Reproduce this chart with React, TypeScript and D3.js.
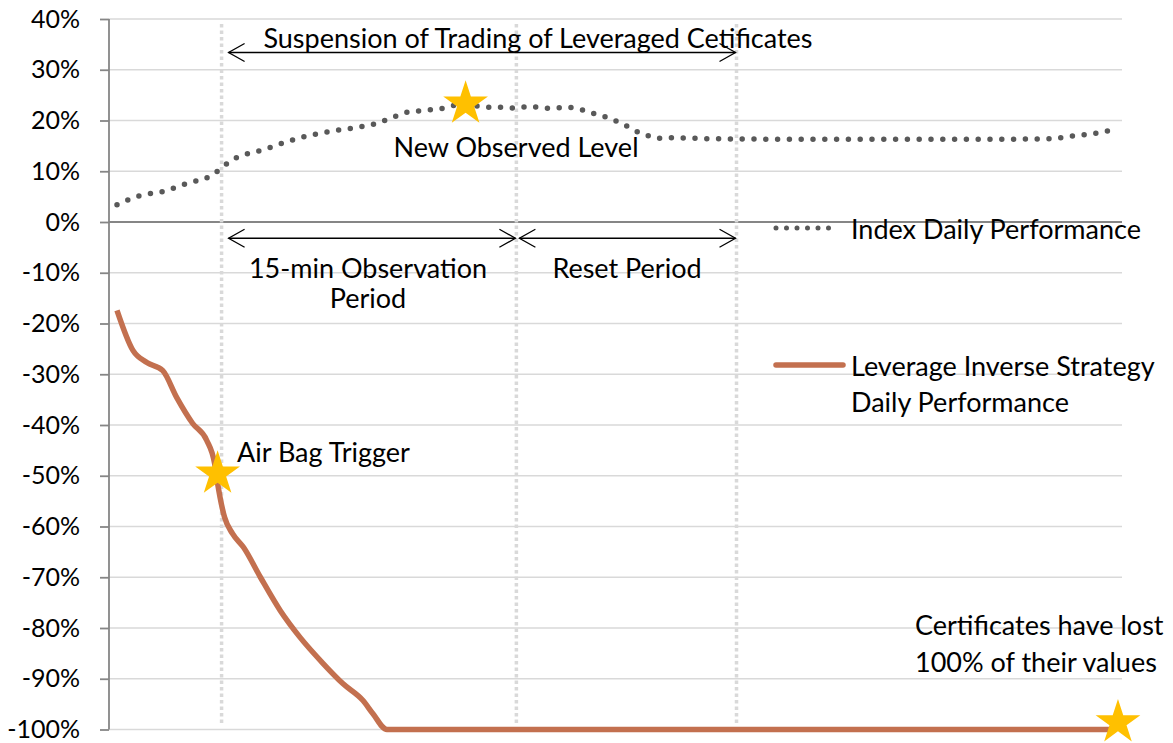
import React, { useRef, useEffect } from "react";
import * as d3 from "d3";

// y axis ticks (percent)
const yTicks = [40, 30, 20, 10, 0, -10, -20, -30, -40, -50, -60, -70, -80, -90, -100];

// Index Daily Performance (time index 0..100, percent)
const indexTimes = [
  0, 2.3, 4.6, 7.0, 9.3, 10.3, 11.3, 14.8, 18.4, 21.9, 24.3, 25.6, 26.7, 27.9, 29.1,
  30.3, 32.7, 34.0, 35.2, 36.4, 37.7, 38.9, 40.1, 41.4, 42.6, 43.8, 45.0, 46.2, 47.4,
  48.6, 49.7, 50.9, 52.0, 53.1, 54.2, 55.4, 60, 70, 80, 88, 93.7, 96.1, 98.6, 100,
];
const indexValues = [
  3.4, 5.2, 6.0, 7.6, 9.0, 10.3, 11.9, 14.3, 16.6, 18.0, 18.7, 19.2, 19.9, 20.8, 21.6,
  21.9, 22.4, 23.0, 23.1, 22.8, 22.6, 22.6, 22.4, 22.8, 22.5, 22.4, 22.6, 22.4, 21.6,
  21.0, 20.2, 19.2, 18.0, 17.2, 16.5, 16.6, 16.4, 16.3, 16.3, 16.3, 16.4, 17.0, 17.6, 18.2,
];

// Leverage Inverse Strategy Daily Performance
const strategyTimes = [
  0, 1.6, 3.0, 4.6, 6.0, 7.6, 9.0, 9.8, 10.1, 10.8, 11.6, 12.7, 14.4, 16.4, 18.4, 20.7,
  22.7, 24.7, 25.7, 27.1, 40, 60, 80, 100,
];
const strategyValues = [
  -17.4, -25.3, -27.7, -29.3, -34.6, -39.7, -43.0, -47.6, -51.5, -58.2, -61.4, -64.1,
  -70.0, -76.6, -81.9, -87.0, -91.0, -94.3, -96.9, -100, -100, -100, -100, -100,
];

// vertical event lines (time index)
const eventTimes = [10.5, 40.1, 62.2];

// star markers [time, value]
const starPoints = [
  [35.0, 23.3],
  [10.1, -49.6],
  [100.5, -98.6],
];

const FONT = "Lato, 'Noto Sans', sans-serif";
const W = 1173;
const H = 743;

const App = () => {
  const svgRef = useRef<SVGSVGElement>(null);

  useEffect(() => {
    const svg = d3.select(svgRef.current);
    svg.selectAll("*").remove();

    const plotLeft = 109;
    const plotRight = 1122;

    const x = d3.scaleLinear().domain([0, 100]).range([117, 1113]);
    const y = d3.scaleLinear().domain([-100, 40]).range([729.5, 19]);

    // gridlines
    svg
      .append("g")
      .selectAll("line")
      .data(yTicks.filter((d) => d !== 0))
      .enter()
      .append("line")
      .attr("x1", plotLeft)
      .attr("x2", plotRight)
      .attr("y1", (d) => y(d))
      .attr("y2", (d) => y(d))
      .attr("stroke", "#d9d9d9")
      .attr("stroke-width", 1.5);

    // zero line
    svg
      .append("line")
      .attr("x1", plotLeft)
      .attr("x2", plotRight)
      .attr("y1", y(0))
      .attr("y2", y(0))
      .attr("stroke", "#868686")
      .attr("stroke-width", 1.8);

    // y axis
    const yAxis = svg
      .append("g")
      .attr("transform", `translate(${plotLeft},0)`)
      .call(
        d3
          .axisLeft(y)
          .tickValues(yTicks)
          .tickSize(9)
          .tickPadding(20)
          .tickFormat((d) => `${d}%`)
      );
    yAxis.select(".domain").attr("stroke", "#868686").attr("stroke-width", 1.8).attr("d", `M0,${y(40)}V${y(-100)}`);
    yAxis.selectAll(".tick line").attr("stroke", "#868686").attr("stroke-width", 1.8);
    yAxis
      .selectAll(".tick text")
      .attr("fill", "#000")
      .style("font-family", FONT)
      .style("font-size", "25px");

    // vertical dotted event lines
    svg
      .append("g")
      .selectAll("line")
      .data(eventTimes)
      .enter()
      .append("line")
      .attr("x1", (d) => x(d))
      .attr("x2", (d) => x(d))
      .attr("y1", 24)
      .attr("y2", 726)
      .attr("stroke", "#d9d9d9")
      .attr("stroke-width", 3.5)
      .attr("stroke-dasharray", "3.5 3");

    // index line (dotted)
    const indexLine = d3
      .line<number>()
      .x((d, i) => x(indexTimes[i]))
      .y((d) => y(d))
      .curve(d3.curveMonotoneX);
    svg
      .append("path")
      .attr("d", indexLine(indexValues))
      .attr("fill", "none")
      .attr("stroke", "#595959")
      .attr("stroke-width", 5.5)
      .attr("stroke-linecap", "round")
      .attr("stroke-dasharray", "0 11.8");

    // strategy line
    const strategyLine = d3
      .line<number>()
      .x((d, i) => x(strategyTimes[i]))
      .y((d) => y(d))
      .curve(d3.curveMonotoneX);
    svg
      .append("path")
      .attr("d", strategyLine(strategyValues))
      .attr("fill", "none")
      .attr("stroke", "#c3704f")
      .attr("stroke-width", 5.5)
      .attr("stroke-linejoin", "round");

    // arrows
    const arrow = (x1, x2, yy) => {
      const g = svg.append("g").attr("stroke", "#000").attr("stroke-width", 1.3).attr("fill", "none");
      g.append("line").attr("x1", x1).attr("x2", x2).attr("y1", yy).attr("y2", yy);
      g.append("path").attr("d", `M${x1 + 16},${yy - 9}L${x1},${yy}L${x1 + 16},${yy + 9}`);
      g.append("path").attr("d", `M${x2 - 16},${yy - 9}L${x2},${yy}L${x2 - 16},${yy + 9}`);
    };
    arrow(x(eventTimes[0]) + 7, x(eventTimes[2]) - 1, y(33.4));
    arrow(x(eventTimes[0]) + 7, x(eventTimes[1]) - 1, y(-3.2));
    arrow(x(eventTimes[1]) + 3, x(eventTimes[2]) - 1, y(-3.2));

    // stars
    svg
      .append("g")
      .selectAll("path")
      .data(starPoints)
      .enter()
      .append("path")
      .attr("d", d3.symbol().type(d3.symbolStar).size(620)())
      .attr("transform", (d) => `translate(${x(d[0])},${y(d[1])})`)
      .attr("fill", "#ffc000");

    // text labels
    const label = (txt, tx, ty, anchor = "start") => {
      svg
        .append("text")
        .attr("x", tx)
        .attr("y", ty)
        .attr("text-anchor", anchor)
        .attr("dominant-baseline", "central")
        .style("font-family", FONT)
        .style("font-size", "27px")
        .attr("fill", "#000")
        .text(txt);
    };
    label("Suspension of Trading of Leveraged Cetificates", 538, 37, "middle");
    label("New Observed Level", 516, 146, "middle");
    label("15-min Observation", 368, 267, "middle");
    label("Period", 368, 297, "middle");
    label("Reset Period", 627, 267, "middle");
    label("Air Bag Trigger", 237, 451);
    label("Certificates have lost", 915, 624);
    label("100% of their values", 915, 661);

    // legend
    svg
      .append("line")
      .attr("x1", 776)
      .attr("x2", 838)
      .attr("y1", 228)
      .attr("y2", 228)
      .attr("stroke", "#595959")
      .attr("stroke-width", 5)
      .attr("stroke-linecap", "round")
      .attr("stroke-dasharray", "0 10.5");
    label("Index Daily Performance", 851, 228);

    svg
      .append("line")
      .attr("x1", 776)
      .attr("x2", 843)
      .attr("y1", 365)
      .attr("y2", 365)
      .attr("stroke", "#c3704f")
      .attr("stroke-width", 5.5)
      .attr("stroke-linecap", "round");
    label("Leverage Inverse Strategy", 851, 365);
    label("Daily Performance", 851, 401);
  }, []);

  return (
    <svg
      ref={svgRef}
      width={W}
      height={H}
      style={{ position: "absolute", left: 0, top: 0, background: "#fff" }}
    ></svg>
  );
};

export default App;
